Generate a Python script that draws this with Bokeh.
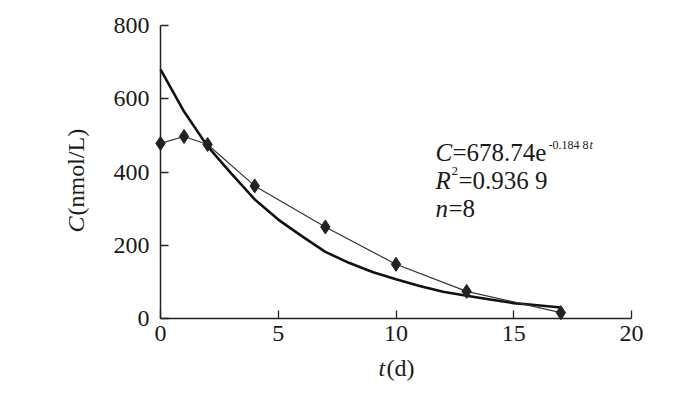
import math
from bokeh.plotting import figure
from bokeh.models import Label, FixedTicker, Range1d, LinearAxis
from bokeh.embed import file_html
from bokeh.resources import INLINE

# measured data
t_obs = [0, 1, 2, 4, 7, 10, 13, 17]
c_obs = [478, 497, 475, 362, 250, 148, 74, 16]

# fitted curve
t_fit = [0, 1, 2, 3, 4, 5, 6, 7, 8, 9, 10, 11, 12, 13, 14, 15, 16, 17]
c_fit = [680, 565, 470, 396, 325, 270, 225, 182, 152, 127, 107, 89, 73, 62, 52, 42, 36, 30]

x_ticks = [0, 5, 10, 15, 20]
y_ticks = [0, 200, 400, 600, 800]
X_MIN, X_MAX = 0, 20
Y_MIN, Y_MAX = 0, 800

FONT = "Liberation Serif"
W, H = 684, 383
# pixel box of the axes area on the canvas
PX0, PX1 = 160, 631
PY0, PY1 = 318, 25   # bottom, top

sx = (X_MAX - X_MIN) / (PX1 - PX0)
sy = (Y_MAX - Y_MIN) / (PY0 - PY1)
def dx(px):
    return X_MIN + (px - PX0) * sx
def dy(py):
    return Y_MIN + (PY0 - py) * sy

p = figure(width=W, height=H, output_backend="svg", toolbar_location=None,
           x_range=Range1d(dx(0), dx(W)), y_range=Range1d(dy(H), dy(0)),
           x_axis_location=None, y_axis_location=None,
           min_border=0)
p.outline_line_color = None
p.grid.visible = False
p.background_fill_color = "white"
p.border_fill_color = "white"

xa = LinearAxis(fixed_location=Y_MIN, bounds=(X_MIN, X_MAX))
ya = LinearAxis(fixed_location=X_MIN, bounds=(Y_MIN, Y_MAX))
for ax, ticks in ((xa, x_ticks), (ya, y_ticks)):
    ax.ticker = FixedTicker(ticks=ticks)
    ax.major_tick_in = 8
    ax.major_tick_out = 0
    ax.minor_tick_in = 0
    ax.minor_tick_out = 0
    ax.axis_line_width = 1.5
    ax.axis_line_color = "#222222"
    ax.major_tick_line_color = "#222222"
    ax.major_tick_line_width = 1.3
    ax.major_label_text_font = FONT
    ax.major_label_text_font_size = "24px"
    ax.major_label_text_color = "#1a1a1a"
xa.major_label_standoff = 7
ya.major_label_standoff = 11
p.add_layout(xa, "below")
p.add_layout(ya, "left")

p.line(t_fit, c_fit, line_color="#111111", line_width=2.6)
p.line(t_obs, c_obs, line_color="#333333", line_width=1.2)
p.scatter(t_obs, c_obs, marker="diamond", size=14, fill_color="#222222", line_color="#222222")

def lab(text, px, py, size, italic=False, angle=0.0, baseline="alphabetic"):
    p.add_layout(Label(x=dx(px), y=dy(py),
                       text=text, text_font=FONT, text_font_size=f"{size}px",
                       text_font_style="italic" if italic else "normal",
                       text_color="#1a1a1a", angle=angle,
                       text_align="left", text_baseline=baseline))

# axis labels
lab("C", 75, 232, 24, italic=True, angle=math.pi / 2, baseline="middle")
lab("(nmol/L)", 75, 215, 24, angle=math.pi / 2, baseline="middle")
lab("t", 378, 367, 24, italic=True)
lab("(d)", 386, 367, 24)

# fit annotation
lab("C", 435, 152, 25, italic=True)
lab("=678.74e", 452, 152, 25)
lab("-0.184 8", 548, 144, 12)
lab("t", 589, 144, 12, italic=True)
lab("R", 435, 180, 25, italic=True)
lab("2", 451, 170, 13)
lab("=0.936 9", 458, 180, 25)
lab("n", 435, 208, 25, italic=True)
lab("=8", 448, 208, 25)

open("out.html", "w").write(file_html(p, INLINE))
